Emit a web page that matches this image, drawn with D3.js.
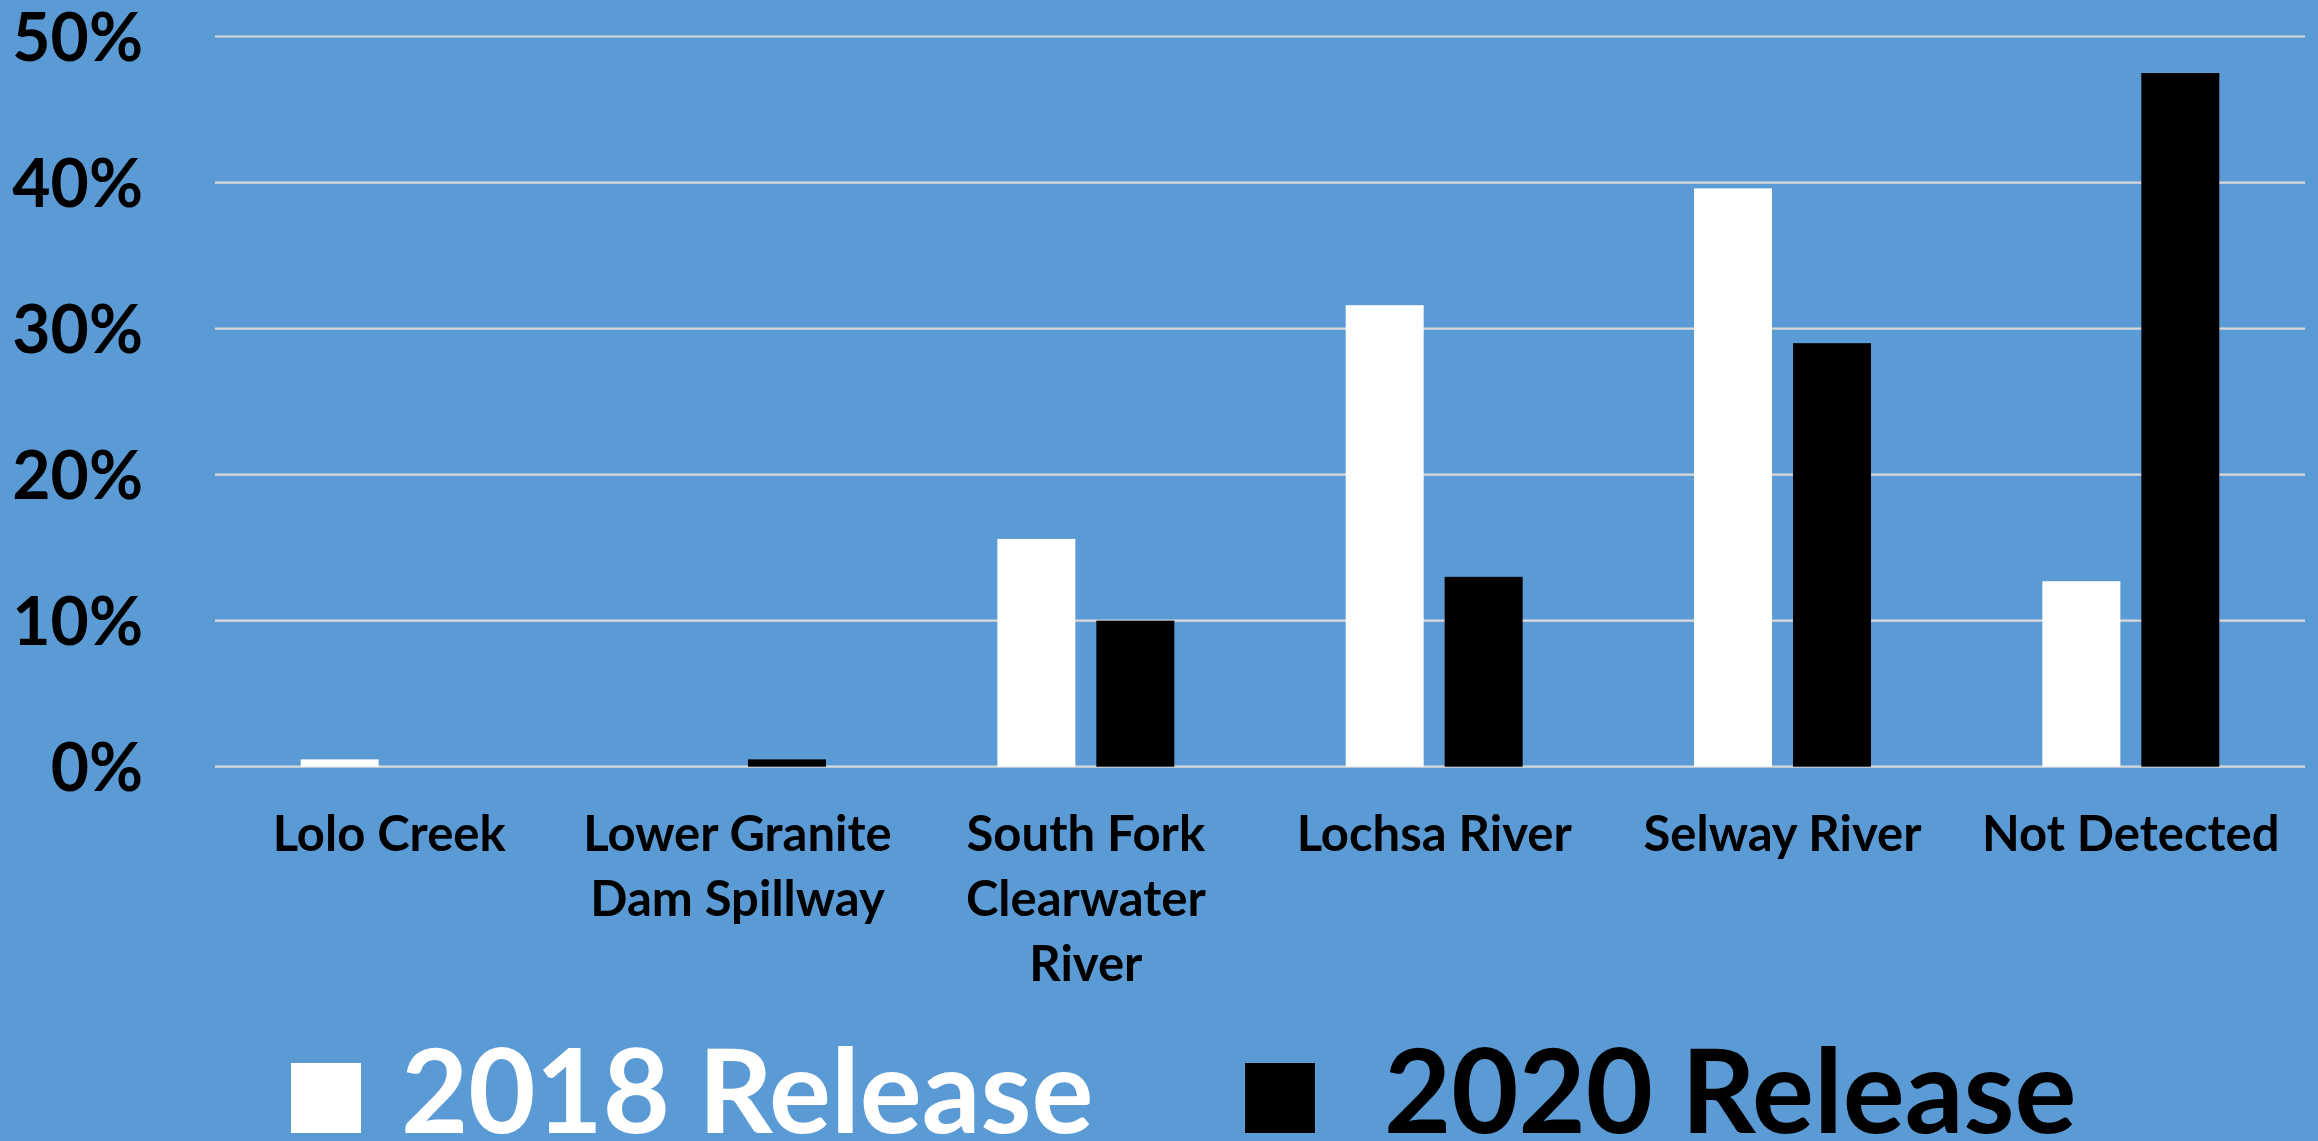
<!DOCTYPE html>
<html>
<head>
<meta charset="utf-8">
<script src="https://cdnjs.cloudflare.com/ajax/libs/d3/7.8.5/d3.min.js"></script>
<style>
    html, body { margin: 0; padding: 0; background: #5B9BD5; overflow: hidden; }
    svg { display: block; }
    text { font-family: Lato, "Open Sans", sans-serif; font-weight: bold; }
</style>
</head>
<body>
<svg width="2318" height="1141"></svg>
<script>

// categories along the x axis (label lines as drawn in the chart)
var categories = ["Lolo Creek", "Lower Granite Dam Spillway", "South Fork Clearwater River",
                  "Lochsa River", "Selway River", "Not Detected"]
var categoryLines = [["Lolo Creek"], ["Lower Granite", "Dam Spillway"], ["South Fork", "Clearwater", "River"],
                     ["Lochsa River"], ["Selway River"], ["Not Detected"]]

// series (percent of fish)
var seriesNames = ["2018 Release", "2020 Release"]
var release2018 = [0.5, 0, 15.6, 31.6, 39.6, 12.7]
var release2020 = [0, 0.5, 10.0, 13.0, 29.0, 47.5]
var seriesColors = ["#FFFFFF", "#000000"]

// y ticks
var yTicks = [0, 10, 20, 30, 40, 50]

var svg = d3.select("svg"),
    width = +svg.attr("width"),
    height = +svg.attr("height");

var plotLeft = 215, plotRight = 2305, plotTop = 36.5, plotBottom = 766.7

var x0 = d3.scaleBand()
    .domain(categories)
    .range([plotLeft, plotRight])
    .paddingInner(0.492)
    .paddingOuter(0.246);

var x1 = d3.scaleBand()
    .domain(seriesNames)
    .range([0, x0.bandwidth()])
    .paddingInner(0.212);

var y = d3.scaleLinear()
    .domain([0, 50])
    .range([plotBottom, plotTop]);

var color = d3.scaleOrdinal()
    .domain(seriesNames)
    .range(seriesColors);

var rows = categories.map(function (c, i) {
    return { category: c, values: [
        { series: seriesNames[0], value: release2018[i] },
        { series: seriesNames[1], value: release2020[i] }
    ]};
});

svg.append("rect")
    .attr("width", width)
    .attr("height", height)
    .attr("fill", "#5B9BD5");

// gridlines
svg.append("g")
    .attr("class", "grid")
    .selectAll("line")
    .data(yTicks)
    .enter().append("line")
    .attr("x1", plotLeft)
    .attr("x2", plotRight)
    .attr("y1", function (d) { return y(d); })
    .attr("y2", function (d) { return y(d); })
    .attr("stroke", "#D9D9D9")
    .attr("stroke-width", 2.2);

// y axis labels
var yAxis = svg.append("g")
    .attr("transform", "translate(" + plotLeft + ",0)")
    .call(d3.axisLeft(y).tickValues(yTicks).tickSize(0).tickPadding(72)
        .tickFormat(function (d) { return d + "%"; }));
yAxis.select(".domain").remove();
yAxis.selectAll("text")
    .attr("fill", "#000")
    .style("font-size", "66px")
    .attr("dy", "0.36em");

// bars
var groups = svg.append("g")
    .selectAll("g")
    .data(rows)
    .enter().append("g")
    .attr("transform", function (d) { return "translate(" + x0(d.category) + ",0)"; });

groups.selectAll("rect")
    .data(function (d) { return d.values; })
    .enter().append("rect")
    .attr("x", function (d) { return x1(d.series); })
    .attr("width", x1.bandwidth())
    .attr("y", function (d) { return y(d.value); })
    .attr("height", function (d) { return y(0) - y(d.value); })
    .attr("fill", function (d) { return color(d.series); });

// category labels
var catLabels = svg.append("g")
    .selectAll("text")
    .data(categories)
    .enter().append("text")
    .attr("x", function (d) { return x0(d) + x0.bandwidth() / 2; })
    .attr("y", 851)
    .attr("text-anchor", "middle")
    .attr("fill", "#000")
    .style("font-size", "49px");

catLabels.selectAll("tspan")
    .data(function (d, i) { return categoryLines[i]; })
    .enter().append("tspan")
    .attr("x", function () { return d3.select(this.parentNode).attr("x"); })
    .attr("dy", function (d, i) { return i === 0 ? 0 : 65; })
    .text(function (d) { return d; });

// legend
var legendX = [291, 1245]
var legendTextX = [401, 1384]
var legend = svg.selectAll(".legend")
    .data(seriesNames)
    .enter().append("g")
    .attr("class", "legend");
legend.append("rect")
    .attr("x", function (d, i) { return legendX[i]; })
    .attr("y", 1063)
    .attr("width", 70)
    .attr("height", 70)
    .attr("fill", function (d) { return color(d); });
legend.append("text")
    .attr("x", function (d, i) { return legendTextX[i]; })
    .attr("y", 1133)
    .attr("fill", function (d) { return color(d); })
    .style("font-size", "116px")
    .text(function (d) { return d; });

</script>
</body>
</html>
